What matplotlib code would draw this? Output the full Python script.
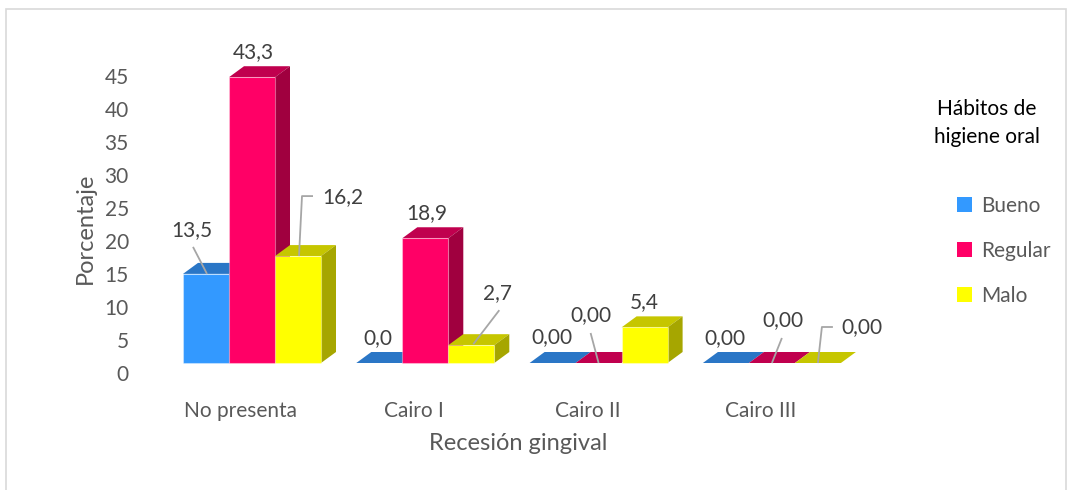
import numpy as np
import matplotlib
matplotlib.use("Agg")
import matplotlib.pyplot as plt
import matplotlib.transforms as mtransforms
from matplotlib.patches import Rectangle, Polygon, Patch

plt.rcParams['font.family'] = ['Lato', 'DejaVu Sans']

# ---------------- data ----------------
categories = ['No presenta', 'Cairo I', 'Cairo II', 'Cairo III']
series = ['Bueno', 'Regular', 'Malo']
bueno = [13.5, 0.0, 0.0, 0.0]
regular = [43.3, 18.9, 0.0, 0.0]
malo = [16.2, 2.7, 5.4, 0.0]
# decimals shown in the data labels (per series, per category)
dec_bueno = [1, 1, 2, 2]
dec_regular = [1, 1, 2, 2]
dec_malo = [1, 1, 1, 2]
yticks = [0, 5, 10, 15, 20, 25, 30, 35, 40, 45]

values = [bueno, regular, malo]
decimals = [dec_bueno, dec_regular, dec_malo]

# colours: front, top, side
front_cols = ['#3399FF', '#FF0066', '#FFFF00']
top_cols = ['#2A76C6', '#C0004E', '#C6C600']
side_cols = ['#1F5A99', '#A0003F', '#A6A600']

# label placement in pixels relative to bar front-top centre: (text offset, leader path)
label_pos = [
    [((-14, 44), [(-13, 27), (1, 0)]), ((-1, 25), None), ((-1, 26), None), ((-1, 25), None)],
    [((1, 25), None), ((1, 25), None), ((-8, 48), [(-8, 30), (0, 0)]), ((11, 43), [(10, 25), (0, 0)])],
    [((45, 59), [(15, 60), (4, 60), (1, 0)]), ((26, 52), [(28, 35), (2, 1)]), ((0, 25), None),
     ((44, 36), [(15, 36), (4, 36), (0, 0)])],
]

# ---------------- figure ----------------
W, H = 1072, 490
fig = plt.figure(figsize=(W / 100, H / 100), dpi=100)
fig.patch.set_facecolor('white')
fig.add_artist(Rectangle((6 / W, -0.01), 1060 / W, (H - 9) / H + 0.01, transform=fig.transFigure,
                         fill=False, edgecolor='#D9D9D9', lw=1.2))

ax_l, ax_r, ax_t, ax_b = 140, 880, 50, 380
ax = fig.add_axes([ax_l / W, 1 - ax_b / H, (ax_r - ax_l) / W, (ax_b - ax_t) / H])
for s in ax.spines.values():
    s.set_visible(False)

px_per_cat = 173.3
px_per_unit = 6.6
x0_px, y0_px = 252, 363
ax.set_xlim((ax_l - x0_px) / px_per_cat, (ax_r - x0_px) / px_per_cat)
ax.set_ylim(-(ax_b - y0_px) / px_per_unit, (y0_px - ax_t) / px_per_unit)

bw = 46 / px_per_cat          # bar width
ddx = 15 / px_per_cat         # depth offset x
ddy = 11 / px_per_unit        # depth offset y

x = np.arange(len(categories))
for i in range(len(categories)):
    for j in range(len(series)):
        v = values[j][i]
        xl = x[i] + (j - 1.5) * bw
        top = Polygon([(xl, v), (xl + bw, v), (xl + bw + ddx, v + ddy), (xl + ddx, v + ddy)],
                      closed=True, facecolor=top_cols[j], edgecolor='none', zorder=2)
        ax.add_patch(top)
        if v > 0:
            side = Polygon([(xl + bw, 0), (xl + bw + ddx, ddy), (xl + bw + ddx, v + ddy), (xl + bw, v)],
                           closed=True, facecolor=side_cols[j], edgecolor='none', zorder=2)
            ax.add_patch(side)
            ax.bar(xl, v, width=bw, align='edge', color=front_cols[j],
                   edgecolor=(1, 1, 1, 0.35), linewidth=0.8, zorder=2)

# data labels
for j in range(len(series)):
    for i in range(len(categories)):
        v = values[j][i]
        xc = x[i] + (j - 1) * bw
        txt = f"{v:.{decimals[j][i]}f}".replace('.', ',')
        (tx, ty), leader = label_pos[j][i]
        trans = mtransforms.Affine2D() + mtransforms.ScaledTranslation(xc, v, ax.transData)
        ax.text(tx, ty, txt, transform=trans, ha='center', va='center',
                fontsize=15, color='#404040', zorder=5)
        if leader is not None:
            lx, ly = zip(*leader)
            ax.plot(lx, ly, transform=trans, color='#A6A6A6', lw=1.3, zorder=4,
                    solid_capstyle='butt')

# y ticks (labels sit slightly lower than the front scale)
ax.set_yticks(yticks)
ax.tick_params(axis='y', length=0, pad=8, labelsize=15, labelcolor='#595959')
off_y = mtransforms.ScaledTranslation(0, -10 / 100, fig.dpi_scale_trans)
for lab in ax.get_yticklabels():
    lab.set_transform(lab.get_transform() + off_y)

ax.set_xticks(x)
ax.set_xticklabels(categories)
ax.tick_params(axis='x', length=0, pad=15, labelsize=15, labelcolor='#595959')
off_x = mtransforms.ScaledTranslation(-11 / 100, 0, fig.dpi_scale_trans)
for lab in ax.get_xticklabels():
    lab.set_transform(lab.get_transform() + off_x)

fig.text(85 / W, 1 - 228 / H, 'Porcentaje', rotation=90, ha='center', va='center',
         fontsize=17, color='#595959')
fig.text(518 / W, 1 - 443 / H, 'Recesión gingival', ha='center', va='center',
         fontsize=17, color='#595959')

# legend
fig.text(987 / W, 1 - 123 / H, 'Hábitos de\nhigiene oral', ha='center', va='center',
         fontsize=15, color='black', linespacing=1.5)
handles = [Patch(facecolor=c, edgecolor='none') for c in front_cols]
leg = fig.legend(handles, series, loc='upper left', bbox_to_anchor=(957 / W, 1 - 196 / H),
                 frameon=False, fontsize=15, labelcolor='#595959', handlelength=0.7,
                 handleheight=0.7, handletextpad=0.45, labelspacing=1.2, borderaxespad=0,
                 borderpad=0)

fig.savefig('out.png', dpi=100, facecolor='white')
